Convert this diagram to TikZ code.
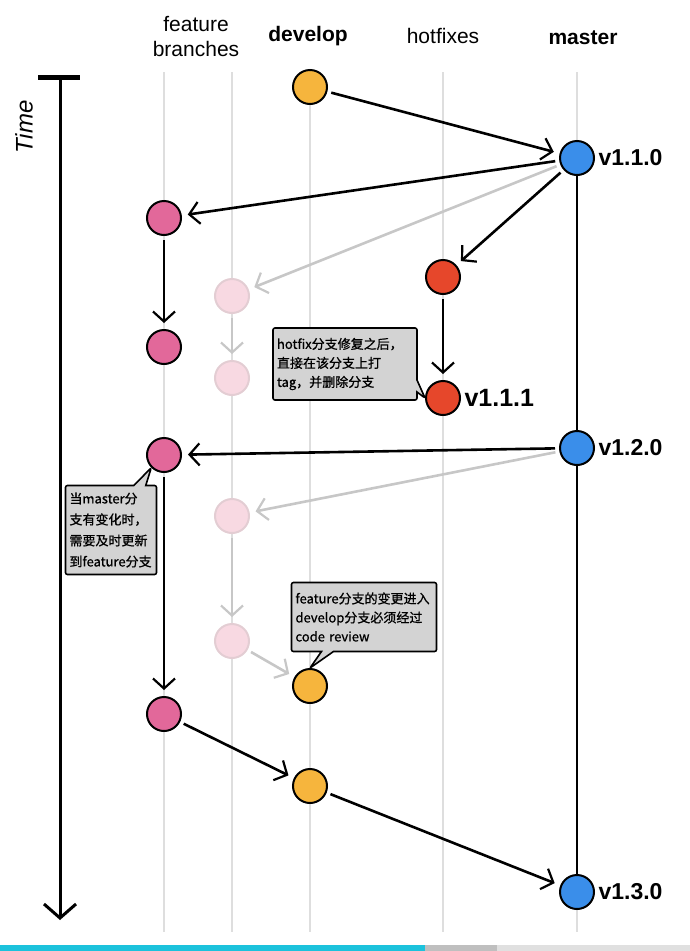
\documentclass[tikz,border=0pt]{standalone}
\usepackage{fontspec}
\setmainfont{Liberation Sans}
\newfontfamily\cjk[FakeBold=0.8]{Noto Sans CJK SC}
\usetikzlibrary{arrows.meta, shapes.callouts}

\definecolor{devorange}{HTML}{F6B53D}
\definecolor{masterblue}{HTML}{3A8EEA}
\definecolor{featpink}{HTML}{E2689A}
\definecolor{hotred}{HTML}{E6472B}
\definecolor{ghostpink}{HTML}{F8D9E2}
\definecolor{ghostedge}{HTML}{E3CDD3}
\definecolor{lanegray}{HTML}{DEDEDE}
\definecolor{notegray}{HTML}{D3D3D3}
\definecolor{barcyan}{HTML}{1CC2DC}

\begin{document}
\begin{tikzpicture}[x=1pt, y=-1pt,
    commit/.style={circle, draw=black, line width=2pt, minimum size=34pt, inner sep=0pt},
    ghost/.style={circle, draw=ghostedge, fill=ghostpink, line width=2pt, minimum size=34pt, inner sep=0pt},
    flow/.style={-{Straight Barb[length=10pt, width=22pt, line width=2.2pt]}, line width=2.6pt, shorten <=4pt, shorten >=6pt},
    ghostflow/.style={flow, draw=black!22},
    lane/.style={draw=lanegray, line width=2pt},
    head/.style={font=\fontsize{21}{25}\selectfont, align=center},
    tag/.style={font=\fontsize{23}{25}\selectfont\bfseries, anchor=west},
    note/.style={rectangle callout, draw=black, fill=notegray, line width=1.6pt,
        rounded corners=2pt, callout pointer width=12pt, align=left, inner sep=4pt,
        font=\cjk\fontsize{13}{19}\selectfont}]
    \useasboundingbox (0,0) rectangle (690,951);

    % lanes
    \foreach \x in {164,232,310,443,577}
        \draw[lane] (\x,72) -- (\x,932);

    % headers
    \node[head] (hfeat) at (196,37) {feature\\branches};
    \node[head, font=\fontsize{21}{25}\selectfont\bfseries] (hdev) at (308,36) {develop};
    \node[head] (hhot) at (443,36) {hotfixes};
    \node[head, font=\fontsize{21}{25}\selectfont\bfseries] (hmas) at (583,38) {master};

    % time axis
    \coordinate (T0) at (60,77);
    \coordinate (T1) at (60,920);
    \draw[line width=5pt] (38,77) -- (80,77);
    \draw[line width=3pt, -{Straight Barb[length=14pt, width=32pt, line width=3pt]}] (T0) -- (T1);
    \node[rotate=90, font=\fontsize{24}{24}\selectfont\itshape\rmfamily] (time) at (24,127) {Time};

    % commits
    \node[commit, fill=devorange] (D1) at (310,87) {};
    \node[commit, fill=masterblue] (M1) at (577,158) {};
    \node[commit, fill=featpink] (F1) at (164,218) {};
    \node[ghost] (G1) at (232,296) {};
    \node[commit, fill=hotred] (H1) at (443,277) {};
    \node[commit, fill=featpink] (F2) at (164,347) {};
    \node[ghost] (G2) at (232,378) {};
    \node[commit, fill=hotred] (H2) at (443,398) {};
    \node[commit, fill=masterblue] (M2) at (577,448) {};
    \node[commit, fill=featpink] (F3) at (164,455) {};
    \node[ghost] (G3) at (232,516) {};
    \node[ghost] (G4) at (232,641) {};
    \node[commit, fill=devorange] (D2) at (310,686) {};
    \node[commit, fill=featpink] (F4) at (164,714) {};
    \node[commit, fill=devorange] (D3) at (310,786) {};
    \node[commit, fill=masterblue] (M3) at (577,892) {};

    % version tags
    \node[tag] (v110) at (M1.east) {v1.1.0};
    \node[tag, font=\fontsize{25}{27}\selectfont\bfseries] (v111) at (H2.east) {v1.1.1};
    \node[tag] (v120) at (M2.east) {v1.2.0};
    \node[tag] (v130) at (M3.east) {v1.3.0};

    % master line
    \draw[line width=2.4pt] (M1) -- (M2);
    \draw[line width=2.4pt] (M2) -- (M3);

    % merges
    \draw[flow] (D1) -- (M1);
    \draw[flow] (M1) -- (F1);
    \draw[ghostflow] (M1) -- (G1);
    \draw[flow] (M1) -- (H1);
    \draw[flow] (F1) -- (F2);
    \draw[ghostflow] (G1) -- (G2);
    \draw[flow] (H1) -- (H2);
    \draw[flow] (M2) -- (F3);
    \draw[ghostflow] (M2) -- (G3);
    \draw[flow] (F3) -- (F4);
    \draw[ghostflow] (G3) -- (G4);
    \draw[ghostflow] (G4) -- (D2);
    \draw[flow] (F4) -- (D3);
    \draw[flow] (D3) -- (M3);

    % notes
    \node[note, text width=136pt, minimum height=72pt,
        callout absolute pointer={(H2.west)}] (nhot) at (345,364)
        {hotfix分支修复之后，\\直接在该分支上打\\tag，并删除分支};
    \node[note, text width=83pt, minimum height=89pt, font=\cjk\fontsize{13}{21}\selectfont,
        callout absolute pointer={(F3.south west)}] (nfeat) at (111,530)
        {当master分\\支有变化时，\\需要及时更新\\到feature分支};
    \node[note, text width=137pt, minimum height=69pt,
        callout absolute pointer={(D2.north)}] (ndev) at (364,617)
        {feature分支的变更进入\\develop分支必须经过\\code review};

    % progress bar
    \fill[barcyan] (0,945) rectangle (425,951);
    \fill[black!25] (425,945) rectangle (497,951);
    \fill[black!12] (497,945) rectangle (690,951);
\end{tikzpicture}
\end{document}
